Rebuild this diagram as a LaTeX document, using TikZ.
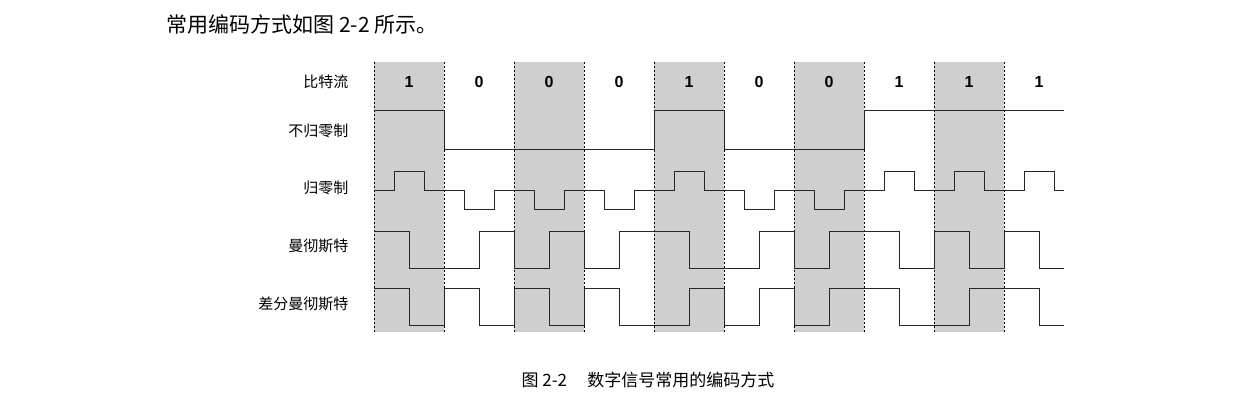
\documentclass[tikz,border=0pt]{standalone}
\usepackage{fontspec}
\newfontfamily\cjk{Noto Sans CJK SC}
\newfontfamily\arial{Liberation Sans}
\begin{document}
\begin{tikzpicture}[x=1pt,y=-1pt,
  wave/.style={line width=1pt,black!85},
  dline/.style={dashed,line width=0.6pt,dash pattern=on 2pt off 2pt},
  lbl/.style={font=\cjk\fontsize{15}{15}\selectfont,anchor=east},
  bit/.style={font=\arial\bfseries\fontsize{16}{16}\selectfont}]
\useasboundingbox (0,0) rectangle (1244,409);
\node[anchor=west,font=\cjk\fontsize{21}{21}\selectfont] (top) at (163,25) {常用编码方式如图 2-2 所示。};
\foreach \i in {0,2,4,6,8}{
  \fill[gray!38] ({374+70*\i},62) rectangle ({444+70*\i},332);
  \draw[dline] ({374+70*\i},62) -- ({374+70*\i},332);
  \draw[dline] ({444+70*\i},62) -- ({444+70*\i},332);
}
\foreach \b [count=\k from 0] in {1,0,0,0,1,0,0,1,1,1}
  \node[bit] (b\k) at ({409+70*\k},82) {\b};
\node[lbl] (l1) at (352,82) {比特流};
\node[lbl] (l2) at (352,131) {不归零制};
\node[lbl] (l3) at (352,188) {归零制};
\node[lbl] (l4) at (352,246) {曼彻斯特};
\node[lbl] (l5) at (352,304) {差分曼彻斯特};
% NRZ
\draw[wave] (374,111) -- (444,111) -- (444,149) -- (654,149) -- (654,111) -- (724,111) -- (724,149) -- (864,149) -- (864,111) -- (1064,111);
% RZ
\draw[wave] (374,190)
 \foreach \b [count=\k from 0] in {1,0,0,0,1,0,0,1,1,1}{
   -- ({374+70*\k+20},190) -- ({374+70*\k+20},{\b==1?171:209}) -- ({374+70*\k+50},{\b==1?171:209}) -- ({374+70*\k+50},190)
 } -- (1064,190);
% Manchester
\draw[wave] (374,231) -- (409,231) -- (409,268) -- (479,268) -- (479,231) -- (514,231) -- (514,268) -- (549,268) -- (549,231) -- (584,231) -- (584,268) -- (619,268) -- (619,231) -- (689,231) -- (689,268) -- (759,268) -- (759,231) -- (794,231) -- (794,268) -- (829,268) -- (829,231) -- (899,231) -- (899,268) -- (934,268) -- (934,231) -- (969,231) -- (969,268) -- (1004,268) -- (1004,231) -- (1039,231) -- (1039,268) -- (1064,268);
% Differential Manchester
\draw[wave] (374,288) -- (409,288) -- (409,325) -- (444,325) -- (444,288) -- (479,288) -- (479,325) -- (514,325) -- (514,288) -- (549,288) -- (549,325) -- (584,325) -- (584,288) -- (619,288) -- (619,325) -- (689,325) -- (689,288) -- (724,288) -- (724,325) -- (759,325) -- (759,288) -- (794,288) -- (794,325) -- (829,325) -- (829,288) -- (899,288) -- (899,325) -- (969,325) -- (969,288) -- (1039,288) -- (1039,325) -- (1064,325);
\node[font=\cjk\fontsize{17}{17}\selectfont] (cap) at (648,380) {图 2-2\hspace{1.2em}数字信号常用的编码方式};
\end{tikzpicture}
\end{document}
